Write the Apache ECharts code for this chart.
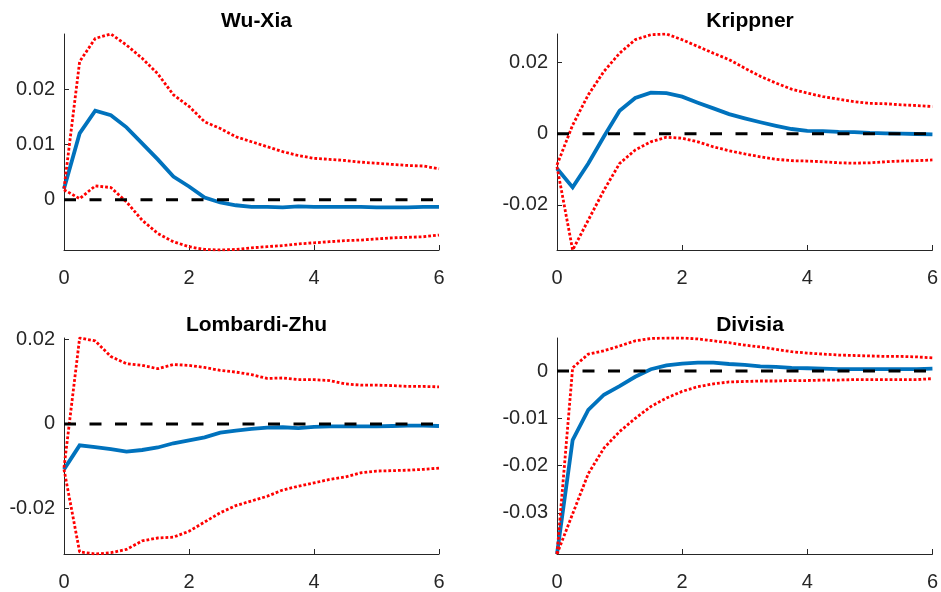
<!DOCTYPE html>
<html>
<head>
<meta charset="utf-8">
<script src="https://cdn.jsdelivr.net/npm/echarts@6/dist/echarts.min.js"></script>
<style>
  html, body { margin: 0; padding: 0; background: #fff; }
  #chart { width: 941px; height: 592px; }
</style>
</head>
<body>
<div id="chart"></div>
<script>
// Impulse-response horizon (years, quarterly steps)
const horizon = [0, 0.25, 0.5, 0.75, 1, 1.25, 1.5, 1.75, 2, 2.25, 2.5, 2.75, 3,
                 3.25, 3.5, 3.75, 4, 4.25, 4.5, 4.75, 5, 5.25, 5.5, 5.75, 6];

const panelTitles = ['Wu-Xia', 'Krippner', 'Lombardi-Zhu', 'Divisia'];

// Wu-Xia: point response and bands
const wuxiaIrf   = [0.0020, 0.0120, 0.0161, 0.0153, 0.0131, 0.0102, 0.0073, 0.0042, 0.0024, 0.0004, -0.0005, -0.0010, -0.0013,
                    -0.0013, -0.0014, -0.0012, -0.0013, -0.0013, -0.0013, -0.0013, -0.0014, -0.0014, -0.0014, -0.0013, -0.0013];
const wuxiaUpper = [0.0020, 0.0250, 0.0292, 0.0300, 0.0280, 0.0256, 0.0228, 0.0190, 0.0169, 0.0141, 0.0129, 0.0114, 0.0105,
                    0.0096, 0.0087, 0.0080, 0.0075, 0.0073, 0.0071, 0.0068, 0.0066, 0.0064, 0.0062, 0.0061, 0.0056];
const wuxiaLower = [0.0018, 0.0002, 0.0025, 0.0022, -0.0004, -0.0037, -0.0061, -0.0076, -0.0085, -0.0090, -0.0091, -0.0090, -0.0087,
                    -0.0085, -0.0083, -0.0080, -0.0078, -0.0076, -0.0074, -0.0073, -0.0071, -0.0069, -0.0068, -0.0067, -0.0064];

// Krippner
const krippIrf   = [-0.0098, -0.0151, -0.0084, -0.0008, 0.0064, 0.0100, 0.0115, 0.0114, 0.0104, 0.0087, 0.0071, 0.0055, 0.0043,
                    0.0032, 0.0022, 0.0013, 0.0008, 0.0007, 0.0005, 0.0004, 0.0002, 0.0001, 0.0000, -0.0001, -0.0002];
const krippUpper = [-0.0088, 0.0024, 0.0109, 0.0175, 0.0226, 0.0264, 0.0278, 0.0280, 0.0264, 0.0245, 0.0226, 0.0208, 0.0184,
                    0.0161, 0.0142, 0.0125, 0.0114, 0.0104, 0.0097, 0.0090, 0.0085, 0.0084, 0.0081, 0.0079, 0.0076];
const krippLower = [-0.0093, -0.0327, -0.0243, -0.0159, -0.0084, -0.0046, -0.0023, -0.0010, -0.0013, -0.0023, -0.0037, -0.0048, -0.0057,
                    -0.0065, -0.0072, -0.0076, -0.0077, -0.0079, -0.0082, -0.0083, -0.0082, -0.0079, -0.0077, -0.0076, -0.0074];

// Lombardi-Zhu
const lzIrf   = [-0.0108, -0.0051, -0.0055, -0.0060, -0.0066, -0.0062, -0.0056, -0.0046, -0.0039, -0.0032, -0.0021, -0.0016, -0.0012,
                 -0.0009, -0.0008, -0.0010, -0.0007, -0.0006, -0.0006, -0.0006, -0.0006, -0.0005, -0.0004, -0.0004, -0.0005];
const lzUpper = [-0.0104, 0.0204, 0.0197, 0.0160, 0.0143, 0.0139, 0.0131, 0.0141, 0.0139, 0.0134, 0.0127, 0.0123, 0.0117,
                 0.0108, 0.0109, 0.0105, 0.0105, 0.0103, 0.0095, 0.0092, 0.0092, 0.0091, 0.0089, 0.0089, 0.0088];
const lzLower = [-0.0108, -0.0304, -0.0309, -0.0306, -0.0298, -0.0278, -0.0271, -0.0269, -0.0255, -0.0233, -0.0211, -0.0194, -0.0183,
                 -0.0172, -0.0157, -0.0148, -0.0140, -0.0132, -0.0126, -0.0116, -0.0112, -0.0111, -0.0110, -0.0108, -0.0105];

// Divisia
const divIrf   = [-0.0387, -0.0146, -0.0082, -0.0050, -0.0032, -0.0012, 0.0004, 0.0012, 0.0016, 0.0018, 0.0018, 0.0015, 0.0013,
                  0.0010, 0.0009, 0.0007, 0.0006, 0.0005, 0.0004, 0.0004, 0.0004, 0.0004, 0.0004, 0.0004, 0.0005];
const divUpper = [-0.0387, 0.0007, 0.0036, 0.0043, 0.0053, 0.0064, 0.0069, 0.0070, 0.0070, 0.0068, 0.0064, 0.0060, 0.0055,
                  0.0051, 0.0046, 0.0041, 0.0038, 0.0036, 0.0034, 0.0033, 0.0032, 0.0031, 0.0031, 0.0030, 0.0028];
const divLower = [-0.0387, -0.0302, -0.0217, -0.0163, -0.0128, -0.0100, -0.0075, -0.0057, -0.0043, -0.0033, -0.0027, -0.0023, -0.0022,
                  -0.0021, -0.0021, -0.0020, -0.0020, -0.0019, -0.0019, -0.0018, -0.0018, -0.0018, -0.0018, -0.0018, -0.0016];

// Y tick labels per panel
const yTicks = [
  [0, 0.01, 0.02],
  [-0.02, 0, 0.02],
  [-0.02, 0, 0.02],
  [-0.03, -0.02, -0.01, 0]
];
const xTicks = [0, 2, 4, 6];
const zeroLine = [0, 0];
const zeroLineX = [0, 6];

const panels = [
  { irf: wuxiaIrf, upper: wuxiaUpper, lower: wuxiaLower },
  { irf: krippIrf, upper: krippUpper, lower: krippLower },
  { irf: lzIrf,    upper: lzUpper,    lower: lzLower },
  { irf: divIrf,   upper: divUpper,   lower: divLower }
];

// Layout of the 2x2 grid
const gridBoxes = [
  { left: 64,  top: 34,  width: 375, height: 216 },
  { left: 557, top: 34,  width: 376, height: 216 },
  { left: 64,  top: 338, width: 375, height: 217 },
  { left: 557, top: 338, width: 376, height: 216 }
];
const titleTops = [6, 6, 310, 310];

const AXIS_COLOR = '#262626';
const FONT = '"Liberation Sans", Arial, Helvetica, sans-serif';

const pairs = (xs, ys) => xs.map((x, i) => [x, ys[i]]);
const fmt = v => String(Math.round(v * 1000) / 1000);

const option = {
  animation: false,
  backgroundColor: '#ffffff',
  title: panelTitles.map((t, i) => ({
    text: t,
    left: gridBoxes[i].left + gridBoxes[i].width / 2,
    top: titleTops[i],
    textAlign: 'center',
    textStyle: { fontFamily: FONT, fontWeight: 'bold', fontSize: 21, color: '#000' }
  })),
  grid: gridBoxes.map(g => Object.assign({ containLabel: false }, g)),
  xAxis: gridBoxes.map((g, i) => ({
    type: 'value',
    gridIndex: i,
    min: xTicks[0],
    max: xTicks[xTicks.length - 1],
    interval: 2,
    axisLine: { show: true, onZero: false, lineStyle: { color: AXIS_COLOR, width: 1 } },
    axisTick: { show: true, inside: true, length: 5, lineStyle: { color: AXIS_COLOR } },
    axisLabel: { color: AXIS_COLOR, fontFamily: FONT, fontSize: 20, margin: 18, formatter: fmt },
    splitLine: { show: false }
  })),
  yAxis: panels.map((p, i) => {
    const all = p.irf.concat(p.upper, p.lower);
    return {
      type: 'value',
      gridIndex: i,
      min: Math.min.apply(null, all),
      max: Math.max.apply(null, all),
      axisLine: { show: true, onZero: false, lineStyle: { color: AXIS_COLOR, width: 1 } },
      axisTick: { show: true, inside: true, length: 5, customValues: yTicks[i], lineStyle: { color: AXIS_COLOR } },
      axisLabel: { color: AXIS_COLOR, fontFamily: FONT, fontSize: 20, margin: 9, customValues: yTicks[i], formatter: fmt },
      splitLine: { show: false }
    };
  }),
  series: []
};

panels.forEach((p, i) => {
  option.series.push({
    type: 'line', xAxisIndex: i, yAxisIndex: i, z: 2,
    data: pairs(horizon, p.irf), showSymbol: false, symbol: 'none',
    lineStyle: { color: '#0072BD', width: 3.8, cap: 'butt', join: 'miter' }
  });
  [p.upper, p.lower].forEach(band => {
    option.series.push({
      type: 'line', xAxisIndex: i, yAxisIndex: i, z: 3,
      data: pairs(horizon, band), showSymbol: false, symbol: 'none',
      lineStyle: { color: '#FF0000', width: 2.8, type: [2.8, 2.0], cap: 'butt' }
    });
  });
  option.series.push({
    type: 'line', xAxisIndex: i, yAxisIndex: i, z: 4,
    data: pairs(zeroLineX, zeroLine), showSymbol: false, symbol: 'none',
    lineStyle: { color: '#000000', width: 3, type: [12, 13.5], cap: 'butt' }
  });
});

const chart = echarts.init(document.getElementById('chart'), null, { renderer: 'canvas' });
chart.setOption(option);
</script>
</body>
</html>
